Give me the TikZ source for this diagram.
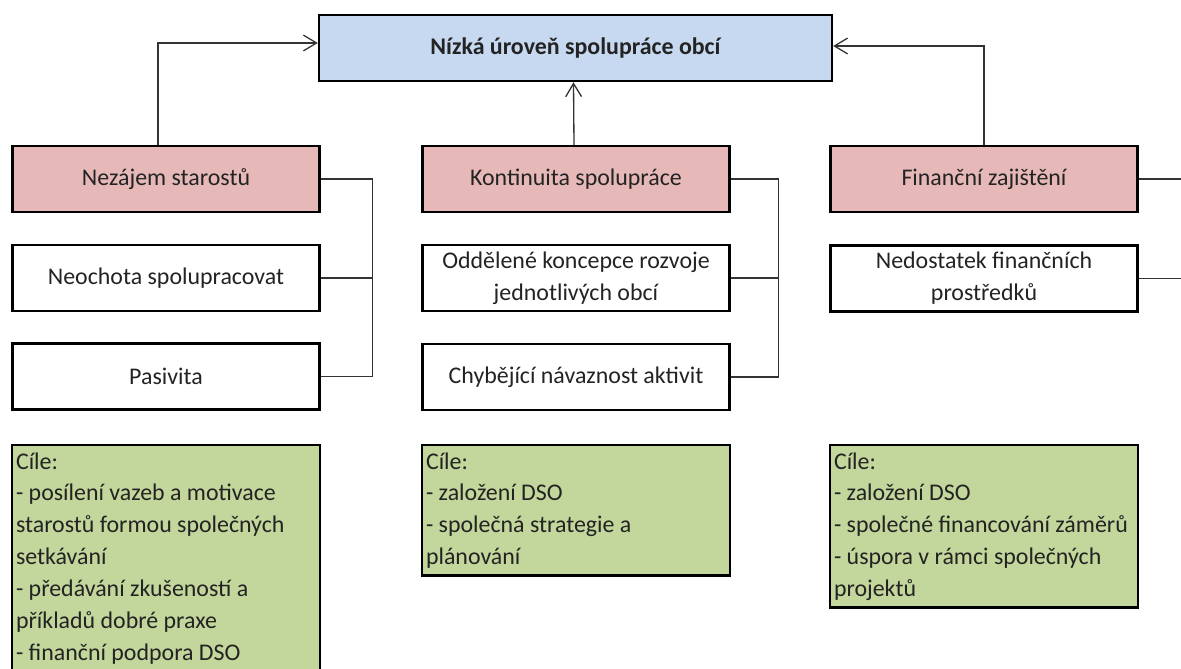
\documentclass[tikz,border=0pt]{standalone}
\usepackage{fontspec}
\setmainfont{Carlito}
\usepackage{xcolor}
\definecolor{probblue}{RGB}{198,217,241}
\definecolor{causered}{RGB}{230,185,184}
\definecolor{goalgreen}{RGB}{195,214,155}
\definecolor{textdark}{RGB}{35,35,35}
\usepackage{tikz}
\usetikzlibrary{arrows.meta, positioning}

\tikzset{
  box/.style={draw=black, line width=1.4pt, minimum width=6.14cm, minimum height=1.32cm,
    text=textdark, align=flush center, inner sep=1pt, font=\fontsize{13.6}{18.14}\selectfont},
  problem/.style={box, fill=probblue, minimum width=10.26cm,
    font=\fontsize{13.6}{18.14}\selectfont\bfseries},
  cause/.style={box, fill=causered},
  reason/.style={box, fill=white},
  goals/.style={box, fill=goalgreen, anchor=north, minimum height=0pt, text width=6.0cm,
    align=flush left, inner xsep=0.08cm, inner ysep=0.85pt},
  link/.style={line width=0.75pt, black!80},
  arr/.style={link, -{Straight Barb[length=7.5pt, width=9pt]}}
}

\begin{document}
\begin{tikzpicture}[x=0.02cm, y=-0.02cm]
  \useasboundingbox (0,0) rectangle (1181,669);
  \clip (0,0) rectangle (1181,669);

  % --- Main problem ---
  \node[problem] (prob) at (575.5,48) {Nízká úroveň spolupráce obcí};

  % --- Causes ---
  \node[cause] (nezajem) at (166,179) {Nezájem starostů};
  \node[cause] (kontinuita) at (576,179) {Kontinuita spolupráce};
  \node[cause] (finance) at (984,179) {Finanční zajištění};

  % --- Reasons ---
  \node[reason] (neochota) at (166,278) {Neochota spolupracovat};
  \node[reason] (pasivita) at (166,376.5) {Pasivita};
  \node[reason] (koncepce) at (576,278) {Oddělené koncepce rozvoje\\jednotlivých obcí};
  \node[reason] (navaznost) at (576,377) {Chybějící návaznost aktivit};
  \node[reason] (nedostatek) at (984,278.5) {Nedostatek finančních\\prostředků};

  % --- Goals ---
  \node[goals] (cile1) at (166,444) {\strut Cíle:\\
    - posílení vazeb a motivace\\
    starostů formou společných\\
    setkávání\\
    - předávání zkušeností a\\
    příkladů dobré praxe\\
    - finanční podpora DSO\strut};
  \node[goals] (cile2) at (576,444) {\strut Cíle:\\
    - založení DSO\\
    - společná strategie a\\
    plánování\strut};
  \node[goals] (cile3) at (984,444) {\strut Cíle:\\
    - založení DSO\\
    - společné financování záměrů\\
    - úspora v rámci společných\\
    projektů\strut};

  % --- Arrows to the problem ---
  \draw[arr] ([xshift=-0.16cm]nezajem.north) |- ([yshift=0.1cm]prob.west);
  \draw[arr] ([xshift=-0.04cm]kontinuita.north) -- ([xshift=-0.04cm]prob.south);
  \draw[arr] (finance.north) |- ([yshift=0.04cm]prob.east);

  % --- Brackets ---
  \draw[link] (nezajem.east) -- ++(52,0) coordinate (nezbus) |- (pasivita.east);
  \draw[link] (neochota.east) -- (neochota.east -| nezbus);
  \draw[link] (kontinuita.east) -- ++(48,0) coordinate (konbus) |- (navaznost.east);
  \draw[link] (koncepce.east) -- (koncepce.east -| konbus);
  \draw[link] (finance.east) -- ++(60,0) coordinate (finbus) |- (nedostatek.east);
\end{tikzpicture}
\end{document}
